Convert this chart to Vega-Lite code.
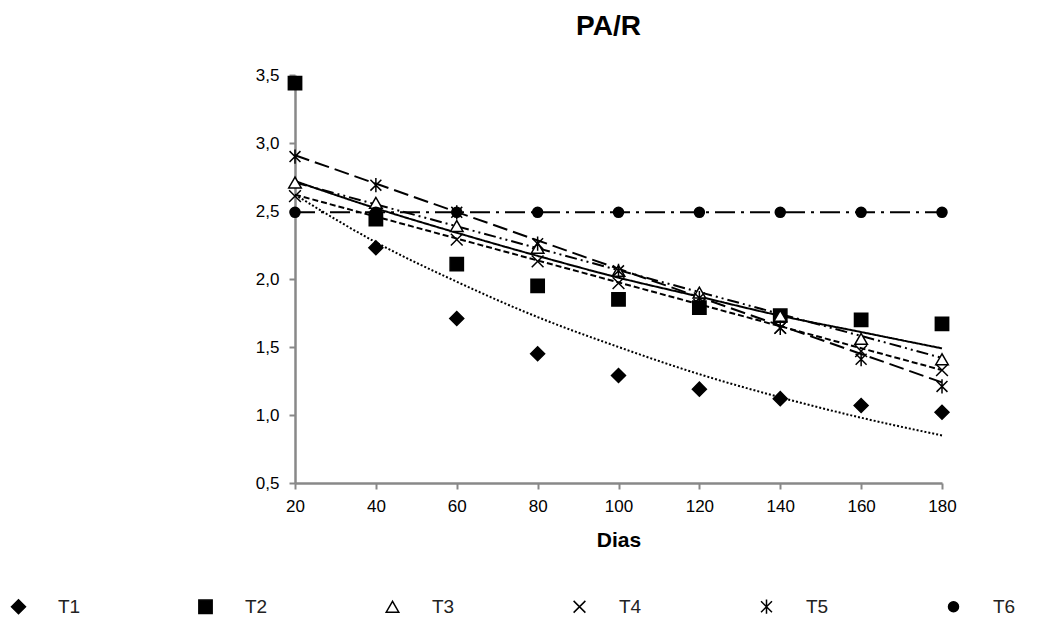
{
  "$schema": "https://vega.github.io/schema/vega-lite/v6.json",
  "width": 647,
  "height": 408,
  "autosize": {"type": "none"},
  "padding": {"left": 295, "top": 75, "right": 95, "bottom": 141},
  "background": "white",
  "title": {"text": "PA/R", "font": "Liberation Sans", "fontSize": 28, "fontWeight": "bold", "color": "black", "anchor": "middle", "dx": -10, "baseline": "alphabetic", "offset": 3},
  "config": {
    "view": {"stroke": null},
    "axis": {"grid": false, "domainColor": "#888888", "domainWidth": 2.5, "tickColor": "#888888", "tickWidth": 2, "tickSize": 6, "labelFont": "Liberation Sans", "labelFontSize": 17, "labelColor": "black", "titleFont": "Liberation Sans", "titleColor": "black", "labelFlush": false}
  },
  "datasets": {
    "pontos": [
      {"dias": 40, "valor": 2.23, "trat": "T1"}, {"dias": 60, "valor": 1.71, "trat": "T1"}, {"dias": 80, "valor": 1.45, "trat": "T1"}, {"dias": 100, "valor": 1.29, "trat": "T1"}, {"dias": 120, "valor": 1.19, "trat": "T1"}, {"dias": 140, "valor": 1.12, "trat": "T1"}, {"dias": 160, "valor": 1.07, "trat": "T1"}, {"dias": 180, "valor": 1.02, "trat": "T1"},
      {"dias": 20, "valor": 3.44, "trat": "T2"}, {"dias": 40, "valor": 2.44, "trat": "T2"}, {"dias": 60, "valor": 2.11, "trat": "T2"}, {"dias": 80, "valor": 1.95, "trat": "T2"}, {"dias": 100, "valor": 1.85, "trat": "T2"}, {"dias": 120, "valor": 1.79, "trat": "T2"}, {"dias": 140, "valor": 1.73, "trat": "T2"}, {"dias": 160, "valor": 1.70, "trat": "T2"}, {"dias": 180, "valor": 1.67, "trat": "T2"},
      {"dias": 20, "valor": 2.71, "trat": "T3"}, {"dias": 40, "valor": 2.56, "trat": "T3"}, {"dias": 60, "valor": 2.39, "trat": "T3"}, {"dias": 80, "valor": 2.23, "trat": "T3"}, {"dias": 100, "valor": 2.06, "trat": "T3"}, {"dias": 120, "valor": 1.90, "trat": "T3"}, {"dias": 140, "valor": 1.73, "trat": "T3"}, {"dias": 160, "valor": 1.56, "trat": "T3"}, {"dias": 180, "valor": 1.41, "trat": "T3"},
      {"dias": 20, "valor": 2.61, "trat": "T4"}, {"dias": 40, "valor": 2.46, "trat": "T4"}, {"dias": 60, "valor": 2.29, "trat": "T4"}, {"dias": 80, "valor": 2.13, "trat": "T4"}, {"dias": 100, "valor": 1.97, "trat": "T4"}, {"dias": 120, "valor": 1.81, "trat": "T4"}, {"dias": 140, "valor": 1.64, "trat": "T4"}, {"dias": 160, "valor": 1.47, "trat": "T4"}, {"dias": 180, "valor": 1.33, "trat": "T4"},
      {"dias": 20, "valor": 2.90, "trat": "T5"}, {"dias": 40, "valor": 2.69, "trat": "T5"}, {"dias": 60, "valor": 2.49, "trat": "T5"}, {"dias": 80, "valor": 2.26, "trat": "T5"}, {"dias": 100, "valor": 2.06, "trat": "T5"}, {"dias": 120, "valor": 1.86, "trat": "T5"}, {"dias": 140, "valor": 1.64, "trat": "T5"}, {"dias": 160, "valor": 1.41, "trat": "T5"}, {"dias": 180, "valor": 1.21, "trat": "T5"},
      {"dias": 20, "valor": 2.49, "trat": "T6"}, {"dias": 40, "valor": 2.49, "trat": "T6"}, {"dias": 60, "valor": 2.49, "trat": "T6"}, {"dias": 80, "valor": 2.49, "trat": "T6"}, {"dias": 100, "valor": 2.49, "trat": "T6"}, {"dias": 120, "valor": 2.49, "trat": "T6"}, {"dias": 140, "valor": 2.49, "trat": "T6"}, {"dias": 160, "valor": 2.49, "trat": "T6"}, {"dias": 180, "valor": 2.49, "trat": "T6"}
    ],
    "tendencia": [
      {"dias": 20, "valor": 2.62, "trat": "T1"}, {"dias": 40, "valor": 2.27, "trat": "T1"}, {"dias": 60, "valor": 1.98, "trat": "T1"}, {"dias": 80, "valor": 1.72, "trat": "T1"}, {"dias": 100, "valor": 1.50, "trat": "T1"}, {"dias": 120, "valor": 1.30, "trat": "T1"}, {"dias": 140, "valor": 1.13, "trat": "T1"}, {"dias": 160, "valor": 0.98, "trat": "T1"}, {"dias": 180, "valor": 0.85, "trat": "T1"},
      {"dias": 20, "valor": 2.72, "trat": "T2"}, {"dias": 40, "valor": 2.52, "trat": "T2"}, {"dias": 60, "valor": 2.34, "trat": "T2"}, {"dias": 80, "valor": 2.17, "trat": "T2"}, {"dias": 100, "valor": 2.01, "trat": "T2"}, {"dias": 120, "valor": 1.87, "trat": "T2"}, {"dias": 140, "valor": 1.73, "trat": "T2"}, {"dias": 160, "valor": 1.61, "trat": "T2"}, {"dias": 180, "valor": 1.49, "trat": "T2"},
      {"dias": 20, "valor": 2.71, "trat": "T3"}, {"dias": 180, "valor": 1.42, "trat": "T3"},
      {"dias": 20, "valor": 2.62, "trat": "T4"}, {"dias": 180, "valor": 1.33, "trat": "T4"},
      {"dias": 20, "valor": 2.91, "trat": "T5"}, {"dias": 180, "valor": 1.24, "trat": "T5"},
      {"dias": 20, "valor": 2.49, "trat": "T6"}, {"dias": 180, "valor": 2.49, "trat": "T6"}
    ]
  },
  "layer": [
    {
      "data": {"name": "tendencia"},
      "mark": {"type": "line", "color": "black", "strokeWidth": 2, "interpolate": "monotone"},
      "encoding": {
        "x": {"field": "dias", "type": "quantitative", "scale": {"domain": [20, 180], "nice": false, "zero": false},
              "axis": {"values": [20, 40, 60, 80, 100, 120, 140, 160, 180], "format": "d", "title": "Dias", "titleFontSize": 21, "titleFontWeight": "bold", "titlePadding": 15, "labelPadding": 9}},
        "y": {"field": "valor", "type": "quantitative", "scale": {"domain": [0.5, 3.5], "nice": false, "zero": false},
              "axis": {"values": [0.5, 1, 1.5, 2, 2.5, 3, 3.5], "labelExpr": "replace(format(datum.value, '.1f'), '.', ',')", "title": null, "labelPadding": 10}},
        "strokeDash": {"field": "trat", "type": "nominal", "legend": null,
                       "scale": {"domain": ["T1", "T2", "T3", "T4", "T5", "T6"], "range": [[2, 2], [1, 0], [12, 4, 2, 4, 2, 4], [6, 3], [15, 6], [20, 6, 3, 6]]}}
      }
    },
    {
      "data": {"name": "pontos"},
      "mark": {"type": "point", "stroke": "black", "strokeWidth": 1.5, "opacity": 1},
      "encoding": {
        "x": {"field": "dias", "type": "quantitative"},
        "y": {"field": "valor", "type": "quantitative"},
        "shape": {"field": "trat", "type": "nominal",
                  "scale": {"domain": ["T1", "T2", "T3", "T4", "T5", "T6"], "range": ["diamond", "square", "triangle-up", "M-1,-1L1,1M-1,1L1,-1", "M-1,-1L1,1M-1,1L1,-1M0,-1.3L0,1.3", "circle"]},
                  "legend": {"orient": "none", "legendX": -286, "legendY": 522, "direction": "horizontal", "columns": 6, "columnPadding": 114, "labelOffset": 30, "gridAlign": "all", "title": null, "padding": 0, "labelFont": "Liberation Sans", "labelFontSize": 19, "labelColor": "#222222", "symbolStrokeColor": "black", "symbolStrokeWidth": 1.5}},
        "fill": {"field": "trat", "type": "nominal", "scale": {"domain": ["T1", "T2", "T3", "T4", "T5", "T6"], "range": ["black", "black", "white", "transparent", "transparent", "black"]}},
        "size": {"field": "trat", "type": "nominal", "scale": {"domain": ["T1", "T2", "T3", "T4", "T5", "T6"], "range": [196, 100, 100, 110, 110, 144]}}
      }
    }
  ],
  "resolve": {"scale": {"strokeDash": "independent"}}
}
